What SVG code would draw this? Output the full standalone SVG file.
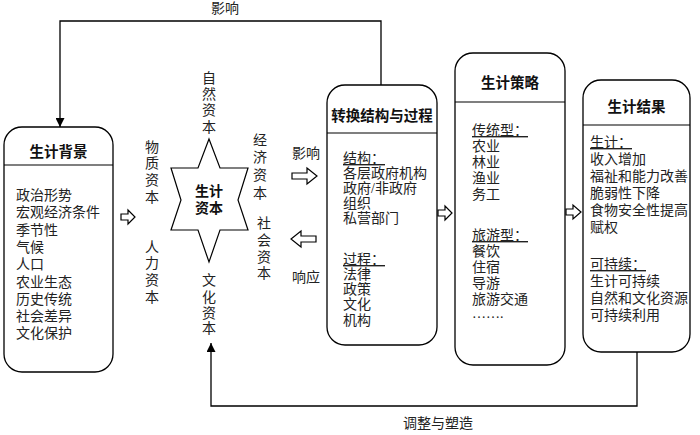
<svg xmlns="http://www.w3.org/2000/svg" width="700" height="435" viewBox="0 0 700 435">
<defs>
<style>
.box{fill:#fff;stroke:#000;stroke-width:1.3}
.hl{stroke:#000;stroke-width:1.2}
.t{font-family:"Liberation Serif","Noto Sans CJK SC",serif;font-size:14px;fill:#222}
.ttl{font-family:"Liberation Sans","Noto Sans CJK SC",sans-serif;font-size:14.5px;font-weight:bold;fill:#111;text-anchor:middle}
.u{text-decoration:underline}
.v{font-family:"Liberation Serif","Noto Sans CJK SC",serif;font-size:14px;fill:#222;text-anchor:middle}
.blk{fill:#fff;stroke:#000;stroke-width:1.2}
.con{fill:none;stroke:#000;stroke-width:1.3}
</style>
<marker id="ah" viewBox="0 0 10 10" refX="10" refY="5" markerWidth="9" markerHeight="9" markerUnits="userSpaceOnUse" orient="auto"><path d="M0,0 L10,5 L0,10 z" fill="#000"/></marker>
</defs>
<rect width="700" height="435" fill="#fff"/>

<g id="connectors">
<polyline class="con" points="381,85 381,21 60,21 60,127" marker-end="url(#ah)"/>
<text class="v" x="225" y="13">影响</text>
<polyline class="con" points="637,352 637,406 211,406 211,343" marker-end="url(#ah)"/>
<text class="v" x="438" y="428">调整与塑造</text>
<polygon class="blk" points="121,214 128,214 128,210 135,217 128,224 128,220 121,220"/>
<polygon class="blk" points="292,173 307,173 307,168 317,176 307,184 307,179 292,179"/>
<polygon class="blk" points="316,236 301,236 301,231 291,239 301,247 301,242 316,242"/>
<polygon class="blk" points="438,210 445,210 445,206 452,213 445,220 445,216 438,216"/>
<polygon class="blk" points="566,209 573,209 573,205 581,212 573,219 573,215 566,215"/>
<text class="v" x="306" y="158">影响</text>
<text class="v" x="306" y="282">响应</text>
</g>

<g id="background">
<rect class="box" x="4" y="127" width="109" height="245" rx="18"/>
<line class="hl" x1="4" y1="165" x2="113" y2="165"/>
<text class="ttl" x="58.5" y="157">生计背景</text>
<text class="t" x="16" y="200">政治形势</text>
<text class="t" x="16" y="217.3">宏观经济条件</text>
<text class="t" x="16" y="234.6">季节性</text>
<text class="t" x="16" y="251.9">气候</text>
<text class="t" x="16" y="269.2">人口</text>
<text class="t" x="16" y="286.5">农业生态</text>
<text class="t" x="16" y="303.8">历史传统</text>
<text class="t" x="16" y="321.1">社会差异</text>
<text class="t" x="16" y="338.4">文化保护</text>
</g>

<g id="capital">
<polygon class="blk" points="209,139 220,168 248,168 238,200 248,230 220,230 209,262 198,230 171,230 181,200 171,168 198,168"/>
<text class="ttl" x="209" y="196" style="font-size:14px">生计</text>
<text class="ttl" x="209" y="213" style="font-size:14px">资本</text>
<text class="v" x="209" y="83">自</text>
<text class="v" x="209" y="99">然</text>
<text class="v" x="209" y="115">资</text>
<text class="v" x="209" y="132">本</text>
<text class="v" x="152" y="152">物</text>
<text class="v" x="152" y="168">质</text>
<text class="v" x="152" y="185">资</text>
<text class="v" x="152" y="202">本</text>
<text class="v" x="152" y="252">人</text>
<text class="v" x="152" y="268">力</text>
<text class="v" x="152" y="285">资</text>
<text class="v" x="152" y="302">本</text>
<text class="v" x="260" y="145">经</text>
<text class="v" x="260" y="162">济</text>
<text class="v" x="260" y="180">资</text>
<text class="v" x="260" y="198">本</text>
<text class="v" x="264" y="228">社</text>
<text class="v" x="264" y="245">会</text>
<text class="v" x="264" y="262">资</text>
<text class="v" x="264" y="278">本</text>
<text class="v" x="209" y="285">文</text>
<text class="v" x="209" y="302">化</text>
<text class="v" x="209" y="318">资</text>
<text class="v" x="209" y="333">本</text>
</g>

<g id="transform">
<rect class="box" x="327" y="85" width="110" height="260" rx="18"/>
<line class="hl" x1="327" y1="133" x2="437" y2="133"/>
<text class="ttl" x="382" y="121">转换结构与过程</text>
<text class="t u" x="343" y="163">结构：</text>
<text class="t" x="343" y="178">各层政府机构</text>
<text class="t" x="343" y="193">政府/非政府</text>
<text class="t" x="343" y="208">组织</text>
<text class="t" x="343" y="223">私营部门</text>
<text class="t u" x="343" y="264">过程：</text>
<text class="t" x="343" y="279">法律</text>
<text class="t" x="343" y="294">政策</text>
<text class="t" x="343" y="309">文化</text>
<text class="t" x="343" y="325">机构</text>
</g>

<g id="strategy">
<rect class="box" x="455" y="53" width="110" height="312" rx="18"/>
<line class="hl" x1="455" y1="102" x2="565" y2="102"/>
<text class="ttl" x="510" y="88">生计策略</text>
<text class="t u" x="472" y="135">传统型：</text>
<text class="t" x="472" y="151">农业</text>
<text class="t" x="472" y="167">林业</text>
<text class="t" x="472" y="183">渔业</text>
<text class="t" x="472" y="199">务工</text>
<text class="t u" x="472" y="240">旅游型：</text>
<text class="t" x="472" y="256">餐饮</text>
<text class="t" x="472" y="272">住宿</text>
<text class="t" x="472" y="288">导游</text>
<text class="t" x="472" y="304">旅游交通</text>
<text class="t" x="472" y="318">…….</text>
</g>

<g id="outcome">
<rect class="box" x="583" y="80" width="107" height="272" rx="18"/>
<line class="hl" x1="583" y1="125" x2="690" y2="125"/>
<text class="ttl" x="636.5" y="112">生计结果</text>
<text class="t u" x="590" y="147">生计：</text>
<text class="t" x="590" y="164">收入增加</text>
<text class="t" x="590" y="181">福祉和能力改善</text>
<text class="t" x="590" y="198">脆弱性下降</text>
<text class="t" x="590" y="215">食物安全性提高</text>
<text class="t" x="590" y="232">赋权</text>
<text class="t u" x="590" y="269">可持续：</text>
<text class="t" x="590" y="286">生计可持续</text>
<text class="t" x="590" y="303">自然和文化资源</text>
<text class="t" x="590" y="320">可持续利用</text>
</g>
</svg>
